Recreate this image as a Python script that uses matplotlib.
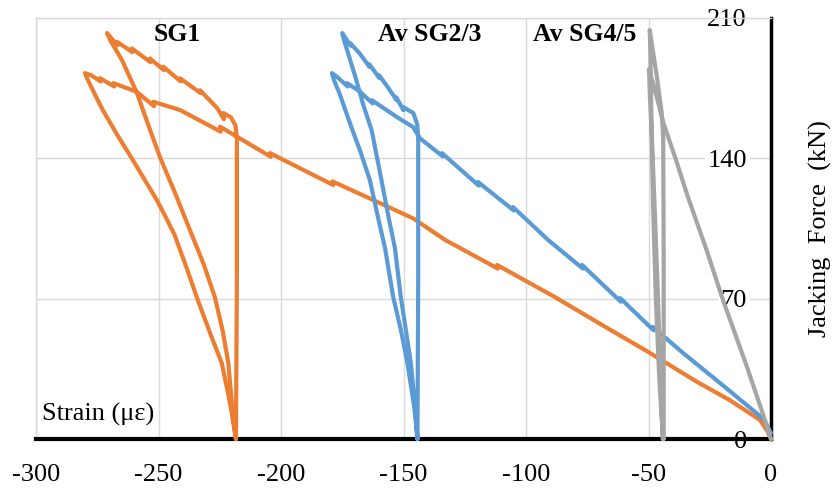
import matplotlib
matplotlib.use('Agg')
import matplotlib.pyplot as plt

# ---------------- data ----------------
strain_ticks = [-300, -250, -200, -150, -100, -50, 0]
strain_labels = ['-300', '-250', '-200', '-150', '-100', '-50', '0']
force_ticks = [0, 70, 140, 210]
force_labels = ['0', '70', '140', '210']

# SG1 (orange)
sg1_strain = [0, -1.5, -4.5, -17, -30.2, -49.4, -69, -88.2, -111.8, -111.5, -133, -146, -162,
              -179, -178.7, -204.5, -204.2, -224.9, -224.6, -241.2, -252.1, -251.8, -258.9,
              -268.4, -268.1, -273.9, -273.6, -277.5, -280,
              -279.2, -276, -272.7, -266.5, -260.4, -255.5, -250.6, -247, -243.5, -239, -234.4, -229,
              -224.2, -221.8, -220.1, -218.4,
              -218.0, -218.0, -218.6, -220.5,
              -223.5, -223.3, -226, -233.1, -232.9, -241.2, -241.0, -248, -247.8, -253.5, -253.3,
              -260.9, -260.7, -267, -266.8, -271,
              -269.5, -264.9, -258.8, -254, -249.4, -243, -237.1, -231.5, -227, -223.8, -221.5, -219.7, -218.4]
sg1_force = [0, 4, 9.5, 19.5, 28.5, 42.9, 56.9, 70.8, 86.8, 85.0, 99.3, 110, 119,
             128.5, 126.7, 142.6, 140.8, 155.8, 153.3, 164.1, 168.2, 166.0, 173.2,
             177.5, 175.8, 180, 178.3, 181.5, 182.5,
             180, 172, 164, 151, 139, 129, 119, 110.5, 102, 87, 70.8, 53,
             37.9, 24, 13, 0,
             80, 150, 156.5, 160.5,
             162.6, 159.5, 165, 174, 172.6, 179.9, 178.4, 185.7, 184.0, 189.8, 188.0,
             194.8, 193.0, 198.2, 196.4, 202.5,
             198.5, 189, 172.6, 156, 140.6, 122, 104, 87, 70.8, 54, 37.9, 13, 0]

# Av SG2/3 (blue)
sg23_strain = [0, -2.5, -6, -20.8, -35.9, -48.2, -47.9, -61.6, -61.3, -77.1, -76.8, -91,
               -105.3, -105, -119.6, -119.3, -134.3, -134, -143.3, -146.1, -152.7,
               -162.9, -162.6, -168, -173.1, -172.8, -177, -179.2,
               -178.4, -176, -172, -167.5, -163.7, -160.3, -157.5, -154.2, -151, -148.4, -145.5, -144.3,
               -144.0, -144.0, -144.4, -146,
               -150.2, -150, -153, -152.8, -156.7, -160, -159.8, -164, -163.8, -168, -171.8, -171.6, -175,
               -174.3, -172.5, -169.5, -166.5, -163, -159.8, -156, -153.5, -151.1, -149, -147, -145.2, -144.3]
sg23_force = [3, 9, 13, 27.9, 42.9, 55.9, 54.2, 70.3, 68.5, 86.8, 85, 99.3,
              115.7, 114, 128.2, 126.4, 142.6, 141, 150, 155.6, 160.6,
              169, 167.4, 173.5, 177.5, 175.9, 180.5, 182.5,
              179, 172, 158, 143, 129, 110, 95, 70.8, 54, 37.9, 15, 0,
              80, 150, 157, 162.6,
              165.6, 164.0, 170.5, 169.0, 176, 181.5, 180.0, 187, 185.5, 192.5, 197.5, 196.2, 202.5,
              199, 192, 180, 167, 154, 134.2, 110, 95.3, 70.8, 54, 37.9, 15, 0]

# Av SG4/5 (grey)
sg45_strain = [0, -4, -9.8, -14.5, -19.6, -26.5, -33.9, -39, -44, -46.5, -48.5, -49.8,
               -49.4, -48.6, -47.6, -46.4, -45.3, -44.5, -44.2,
               -43.8, -43.8, -44.0, -44.6, -46.5, -48, -49.5,
               -49.2, -48.8, -48.2, -47.0, -45.6, -44.6, -44]
sg45_force = [0, 15, 35.9, 52, 69.3, 95, 120.7, 140, 158, 170, 179, 184.5,
              170, 150, 119, 80, 40, 10, 0,
              0, 90, 150, 162.6, 180, 192, 204,
              190, 160, 119, 70, 30, 10, 0]

series_names = ['SG1', 'Av SG2/3', 'Av SG4/5']
series_colors = ['#ED7D31', '#5B9BD5', '#A5A5A5']

# ---------------- figure ----------------
plt.rcParams['font.family'] = ['Liberation Serif', 'DejaVu Serif']

fig = plt.figure(figsize=(8.32, 4.88), dpi=100)
ax = fig.add_axes([36 / 832, 49 / 488, 735 / 832, 421 / 488])
ax.set_xlim(-300, 0)
ax.set_ylim(0, 210)

for xs, ys, c in zip([sg1_strain, sg23_strain, sg45_strain],
                     [sg1_force, sg23_force, sg45_force], series_colors):
    ax.plot(xs, ys, color=c, lw=3.0, solid_joinstyle='round', solid_capstyle='round',
            clip_on=False, zorder=3)

ax.set_axisbelow(True)
ax.grid(True, color='#D9D9D9', lw=1.0)

ax.set_xticks(strain_ticks, labels=strain_labels)
ax.yaxis.tick_right()
ax.set_yticks(force_ticks, labels=force_labels, ha='right',
              bbox=dict(facecolor='white', edgecolor='none', pad=1))
ax.tick_params(axis='x', length=0, pad=18, labelsize=19)
ax.tick_params(axis='y', length=0, pad=-17.3, labelsize=19)

for s in ['left', 'top']:
    ax.spines[s].set_color('#D9D9D9')
    ax.spines[s].set_linewidth(1.0)
ax.spines['right'].set_color('black')
ax.spines['right'].set_linewidth(2.5)
ax.spines['bottom'].set_color('black')
ax.spines['bottom'].set_linewidth(3.0)

# series labels
ax.text(-242.4, 202, 'SG1', fontsize=18.5, fontweight='bold', ha='center', va='center')
ax.text(-139.2, 202, 'Av SG2/3', fontsize=18.5, fontweight='bold', ha='center', va='center')
ax.text(-75.9, 202, 'Av SG4/5', fontsize=18.5, fontweight='bold', ha='center', va='center')

ax.text(-297.6, 12, 'Strain (με)', fontsize=19, ha='left', va='center')

fig.text(820 / 832, 1 - 228.5 / 488, 'Jacking  Force  (kN)', rotation=90,
         fontsize=19, ha='center', va='center')

fig.savefig('out.png', dpi=100)
